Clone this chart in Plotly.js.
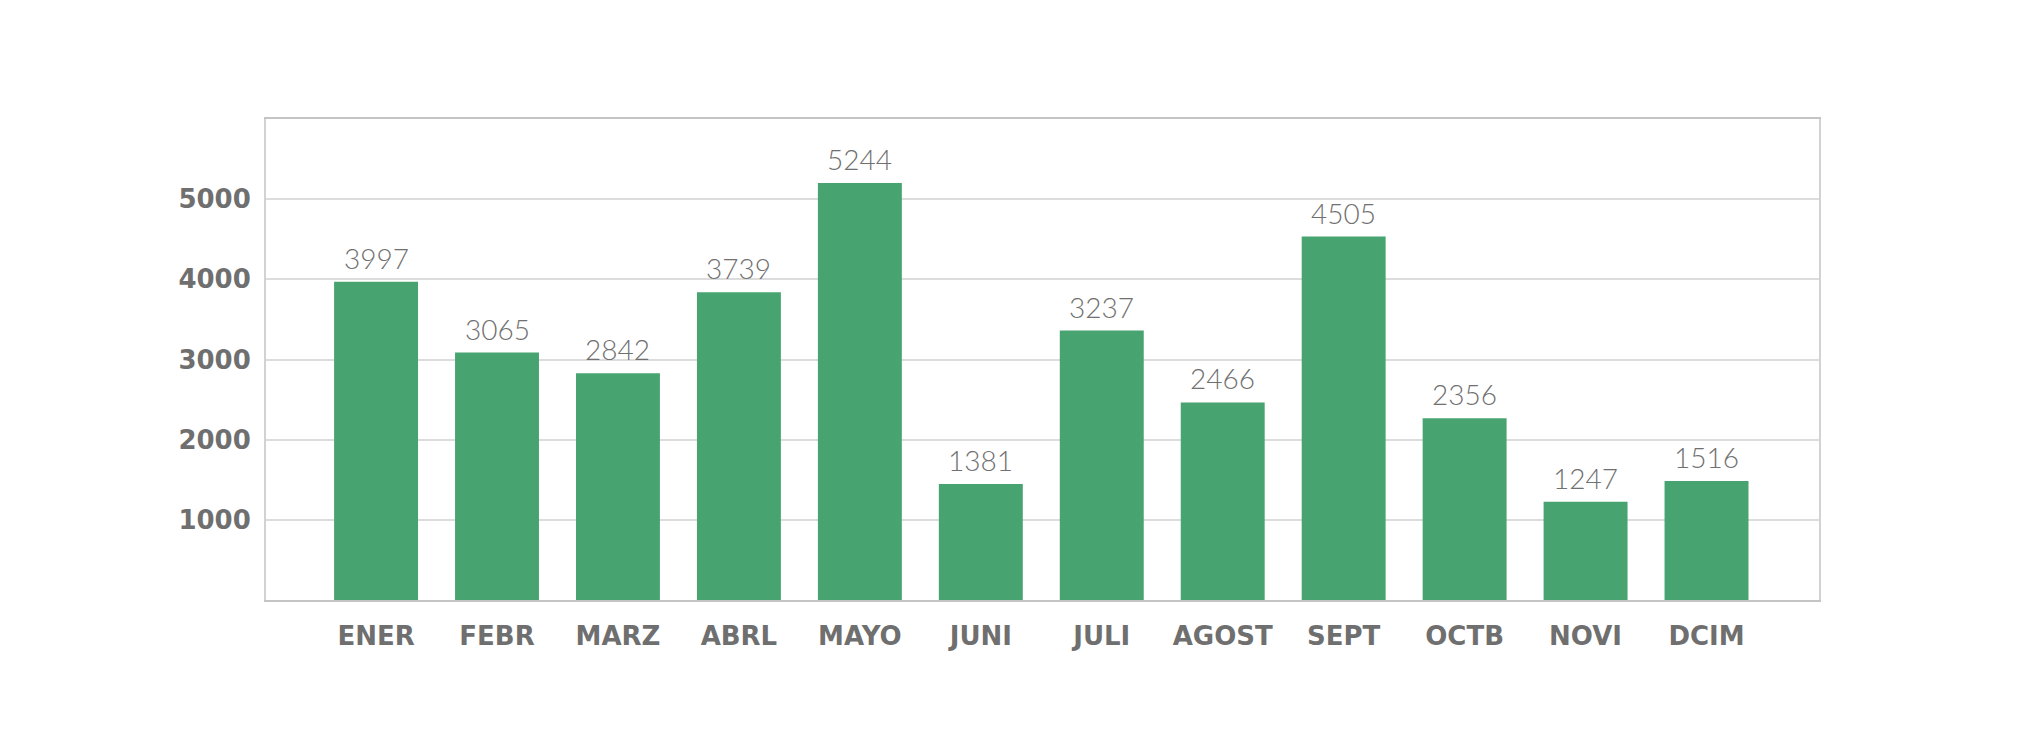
<!DOCTYPE html>
<html>
<head>
<meta charset="utf-8">
<script src="https://cdn.plot.ly/plotly-3.0.1.min.js"></script>
<style>
  html, body { margin: 0; padding: 0; background: #fff; }
  #chart { width: 2043px; height: 751px; }
</style>
</head>
<body>
<div id="chart"></div>
<script>
// months (abbreviated as in the source)
const months = ["ENER", "FEBR", "MARZ", "ABRL", "MAYO", "JUNI", "JULI", "AGOST", "SEPT", "OCTB", "NOVI", "DCIM"];
// bar heights as drawn
const barValues = [3970, 3086, 2829, 3840, 5203, 1447, 3361, 2464, 4533, 2267, 1226, 1483];
// numbers printed above the bars
const barLabels = ["3997", "3065", "2842", "3739", "5244", "1381", "3237", "2466", "4505", "2356", "1247", "1516"];
const yTicks = [1000, 2000, 3000, 4000, 5000];

const green = "#47a471";
const gray = "#6f6f6f";

let trace = {
    x: months,
    y: barValues,
    type: "bar",
    marker: { color: green },
    hoverinfo: "none"
};

// value labels sit a bit above each bar
let annos = [];
for (i = 0; i < months.length; i++) {
    annos.push({
        x: months[i],
        y: barValues[i],
        text: barLabels[i],
        showarrow: false,
        yanchor: "bottom",
        yshift: 5,
        font: { family: "Lato", size: 28, weight: 300, color: "#707070" }
    });
}

let layout = {
    width: 2043,
    height: 751,
    margin: { l: 266, r: 224, t: 119, b: 151 },
    paper_bgcolor: "#fff",
    plot_bgcolor: "#fff",
    showlegend: false,
    bargap: 0.306,
    xaxis: {
        type: "category",
        range: [-0.91, 11.93],
        showgrid: false,
        showline: true,
        linecolor: "#c4c4c4",
        linewidth: 2,
        mirror: true,
        ticks: "outside",
        ticklen: 12,
        tickcolor: "rgba(0,0,0,0)",
        tickfont: { family: "DejaVu Sans", size: 26, weight: "bold", color: gray }
    },
    yaxis: {
        range: [0, 6000],
        tickvals: yTicks,
        ticktext: yTicks.map(String),
        showgrid: true,
        gridcolor: "#dcdcdc",
        gridwidth: 2,
        zeroline: false,
        showline: true,
        linecolor: "#d2d2d2",
        linewidth: 2,
        mirror: true,
        ticks: "outside",
        ticklen: 8,
        tickcolor: "rgba(0,0,0,0)",
        tickfont: { family: "DejaVu Sans", size: 26, weight: "bold", color: gray }
    },
    annotations: annos
};

Plotly.newPlot("chart", [trace], layout, { displayModeBar: false, staticPlot: true });
</script>
</body>
</html>
